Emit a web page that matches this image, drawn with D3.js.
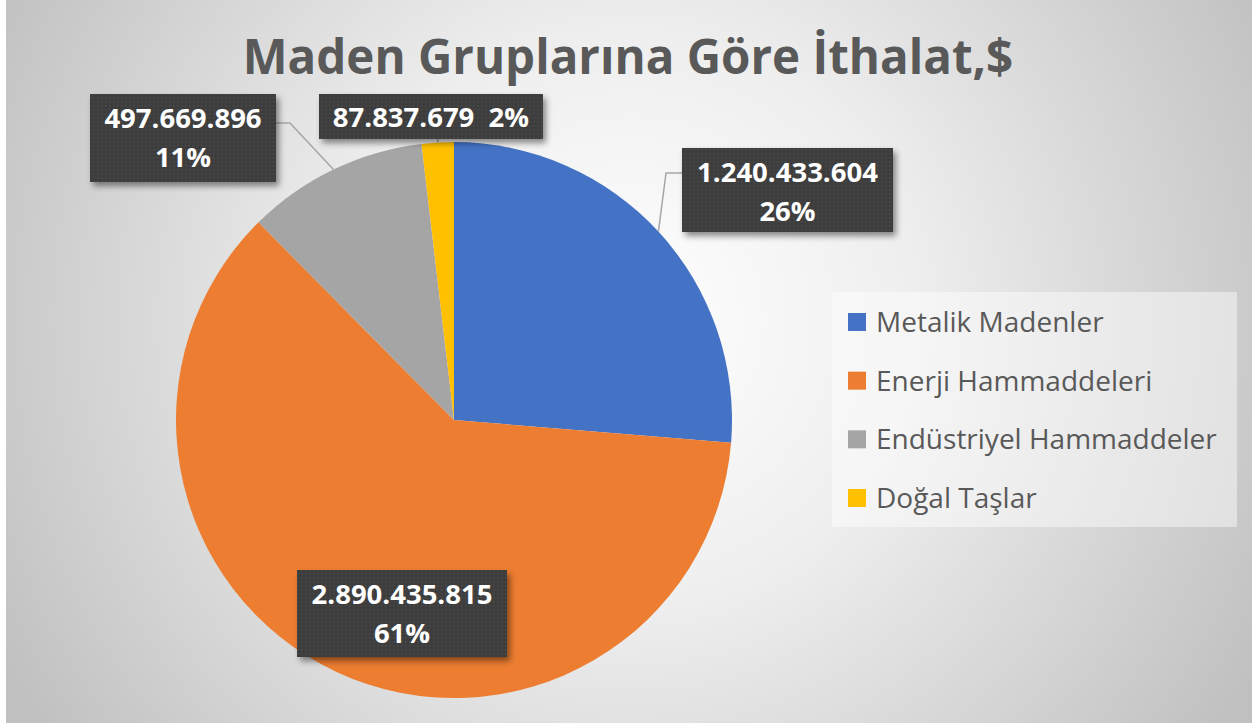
<!DOCTYPE html>
<html lang="tr">
  <head>
    <meta charset="UTF-8" />
    <title>Maden Gruplarına Göre İthalat</title>
    <script src="https://d3js.org/d3.v7.min.js"></script>
    <style>
      body { margin: 0; background: #fff; }
    </style>
  </head>
  <body>
    <div id="chart"></div>

    <script>
      // data
      const categories = [
        "Metalik Madenler",
        "Enerji Hammaddeleri",
        "Endüstriyel Hammaddeler",
        "Doğal Taşlar",
      ];
      const values = [1240433604, 2890435815, 497669896, 87837679];
      const colors = ["#4472c4", "#ed7d31", "#a5a5a5", "#ffc000"];
      const title = "Maden Gruplarına Göre İthalat,$";

      // label boxes (layout only), in the order of categories
      const labelBoxes = [
        { x: 682, y: 148, w: 211, h: 84, oneLine: false, elbow: [666, 173] },
        { x: 297, y: 570, w: 210, h: 87, oneLine: false, elbow: null },
        { x: 90, y: 94, w: 186, h: 88, oneLine: false, elbow: [290, 123] },
        { x: 319, y: 94, w: 224, h: 45, oneLine: true, elbow: null },
      ];

      const W = 1252, H = 725;
      const cx = 454, cy = 420, r = 278;

      const svg = d3
        .select("#chart")
        .append("svg")
        .attr("width", W)
        .attr("height", H);

      const defs = svg.append("defs");

      // background gradient
      const bg = defs
        .append("radialGradient")
        .attr("id", "bg")
        .attr("gradientUnits", "userSpaceOnUse")
        .attr("cx", 630)
        .attr("cy", 320)
        .attr("r", 720);
      bg.append("stop").attr("offset", 0).attr("stop-color", "#ffffff");
      bg.append("stop").attr("offset", 0.4).attr("stop-color", "#eeeeee");
      bg.append("stop").attr("offset", 1).attr("stop-color", "#c0c0c0");

      // dotted texture for the data labels
      const pat = defs
        .append("pattern")
        .attr("id", "dots")
        .attr("patternUnits", "userSpaceOnUse")
        .attr("width", 4)
        .attr("height", 4);
      pat.append("rect").attr("width", 4).attr("height", 4).attr("fill", "#3c3c3c");
      pat.append("rect").attr("x", 1).attr("y", 1).attr("width", 1.5).attr("height", 1.5).attr("fill", "#4c4c4c");

      const shadow = defs
        .append("filter")
        .attr("id", "shadow")
        .attr("x", "-20%")
        .attr("y", "-20%")
        .attr("width", "150%")
        .attr("height", "160%");
      shadow
        .append("feDropShadow")
        .attr("dx", 3)
        .attr("dy", 4)
        .attr("stdDeviation", 3)
        .attr("flood-color", "#000")
        .attr("flood-opacity", 0.45);

      svg
        .append("rect")
        .attr("x", 6)
        .attr("y", 0)
        .attr("width", W - 6)
        .attr("height", H - 2)
        .attr("fill", "url(#bg)");

      // title
      svg
        .append("text")
        .attr("x", 628)
        .attr("y", 74)
        .attr("text-anchor", "middle")
        .attr("font-family", "'Open Sans', sans-serif")
        .attr("font-weight", 700)
        .attr("font-size", 47.5)
        .attr("fill", "#595959")
        .text(title);

      // pie
      const total = d3.sum(values);
      const pie = d3.pie().sort(null).value((d) => d);
      const arcs = pie(values);
      const arc = d3.arc().innerRadius(0).outerRadius(r);

      const g = svg.append("g").attr("transform", `translate(${cx},${cy})`);
      g.selectAll("path")
        .data(arcs)
        .join("path")
        .attr("d", arc)
        .attr("fill", (d, i) => colors[i]);

      // leader lines: from the outer mid point of the slice to the box
      const fmt = (v) => d3.format(",")(v).replace(/,/g, ".");
      const pct = (v) => Math.round((v / total) * 100) + "%";

      arcs.forEach((a, i) => {
        const b = labelBoxes[i];
        const mid = (a.startAngle + a.endAngle) / 2;
        const px = cx + r * Math.sin(mid);
        const py = cy - r * Math.cos(mid);
        let pts = null;
        if (b.elbow) {
          const ex = b.elbow[0] < b.x ? b.x : b.x + b.w;
          pts = [[px, py], b.elbow, [ex, b.elbow[1]]];
        } else if (b.oneLine) {
          pts = [[px, py], [px, b.y + b.h]];
        }
        if (pts) {
          svg
            .append("path")
            .attr("d", d3.line()(pts))
            .attr("fill", "none")
            .attr("stroke", "#a6a6a6")
            .attr("stroke-width", 1.5);
        }
      });

      // data labels
      arcs.forEach((a, i) => {
        const b = labelBoxes[i];
        const lg = svg.append("g");
        lg.append("rect")
          .attr("x", b.x)
          .attr("y", b.y)
          .attr("width", b.w)
          .attr("height", b.h)
          .attr("fill", "url(#dots)")
          .attr("filter", "url(#shadow)");
        const t = lg
          .append("text")
          .attr("text-anchor", "middle")
          .attr("font-family", "'Open Sans', sans-serif")
          .attr("font-weight", 700)
          .attr("font-size", 27.5)
          .attr("fill", "#ffffff");
        const mx = b.x + b.w / 2;
        if (b.oneLine) {
          t.attr("x", mx)
            .attr("y", b.y + b.h / 2 + 10)
            .attr("xml:space", "preserve")
            .style("white-space", "pre")
            .text(fmt(values[i]) + "  " + pct(values[i]));
        } else {
          t.append("tspan").attr("x", mx).attr("y", b.y + 34).text(fmt(values[i]));
          t.append("tspan").attr("x", mx).attr("y", b.y + 73).text(pct(values[i]));
        }
      });

      // legend
      const legend = svg.append("g");
      legend
        .append("rect")
        .attr("x", 832)
        .attr("y", 292)
        .attr("width", 405)
        .attr("height", 235)
        .attr("fill", "#ffffff")
        .attr("fill-opacity", 0.45);

      const rowY = d3.scalePoint().domain(categories).range([322, 498]);
      const items = legend
        .selectAll("g.item")
        .data(categories)
        .join("g")
        .attr("class", "item")
        .attr("transform", (d) => `translate(848,${rowY(d)})`);
      items
        .append("rect")
        .attr("x", 0)
        .attr("y", -9)
        .attr("width", 18)
        .attr("height", 18)
        .attr("fill", (d, i) => colors[i]);
      items
        .append("text")
        .attr("x", 28)
        .attr("y", 0)
        .attr("dy", "0.36em")
        .attr("font-family", "'Open Sans', sans-serif")
        .attr("font-size", 28)
        .attr("fill", "#595959")
        .text((d) => d);
    </script>
  </body>
</html>
